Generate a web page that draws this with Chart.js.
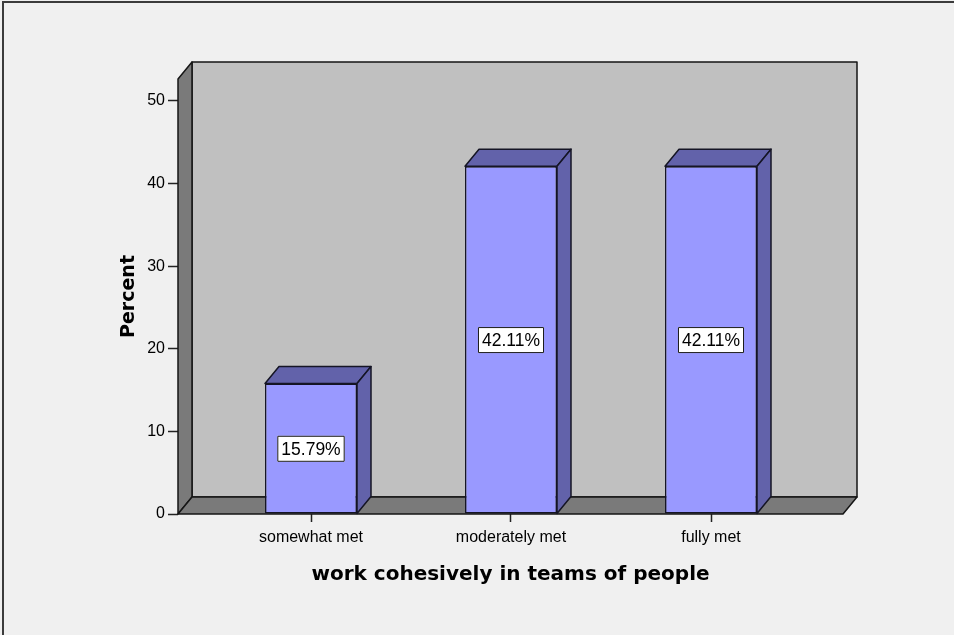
<!DOCTYPE html>
<html>
<head>
<meta charset="utf-8">
<script src="https://cdn.jsdelivr.net/npm/chart.js@4.4.0/dist/chart.umd.min.js"></script>
<style>
    body { margin: 0; background: #f0f0f0; overflow: hidden; }
    .moldura { position: absolute; left: 2px; top: 1px; width: 1000px; height: 1000px; border: 2px solid #3c3c3c; }
    .tamanho { position: absolute; left: 0; top: 0; width: 954px; height: 635px; }
</style>
</head>
<body>
<div class="moldura"></div>
<div class="tamanho"><canvas id="dashboard"></canvas></div>
<script>
const categorias = ['somewhat met', 'moderately met', 'fully met'];
const percentuais = [15.79, 42.11, 42.11];
const ticksY = [0, 10, 20, 30, 40, 50];

// deslocamento da profundidade do efeito 3D
const dx = 14;
const dy = 17;

function poligono(ctx, pontos, cor) {
    ctx.beginPath();
    ctx.moveTo(pontos[0][0], pontos[0][1]);
    for (let i = 1; i < pontos.length; i++) {
        ctx.lineTo(pontos[i][0], pontos[i][1]);
    }
    ctx.closePath();
    ctx.fillStyle = cor;
    ctx.fill();
    ctx.stroke();
}

const caixa3d = {
    id: 'caixa3d',
    beforeDatasetsDraw(chart) {
        const ctx = chart.ctx;
        const a = chart.chartArea;
        ctx.save();
        ctx.lineWidth = 1.5;
        ctx.strokeStyle = '#151515';
        ctx.lineJoin = 'round';
        // parede do fundo
        poligono(ctx, [[a.left + dx, a.top - dy], [a.right + dx, a.top - dy], [a.right + dx, a.bottom - dy], [a.left + dx, a.bottom - dy]], '#c0c0c0');
        // parede lateral (eixo y)
        poligono(ctx, [[a.left, a.top], [a.left + dx, a.top - dy], [a.left + dx, a.bottom - dy], [a.left, a.bottom]], '#7a7a7a');
        // chao
        poligono(ctx, [[a.left, a.bottom], [a.left + dx, a.bottom - dy], [a.right + dx, a.bottom - dy], [a.right, a.bottom]], '#7a7a7a');
        ctx.restore();
    },
    afterDatasetsDraw(chart) {
        const ctx = chart.ctx;
        const meta = chart.getDatasetMeta(0);
        const escalaY = chart.scales.y;
        ctx.save();
        ctx.lineWidth = 1.5;
        ctx.strokeStyle = '#151525';
        ctx.lineJoin = 'round';
        meta.data.forEach(function (barra, i) {
            let esq = barra.x - barra.width / 2;
            let dir = barra.x + barra.width / 2;
            // topo e lateral da barra
            poligono(ctx, [[esq, barra.y], [esq + dx, barra.y - dy], [dir + dx, barra.y - dy], [dir, barra.y]], '#6262aa');
            poligono(ctx, [[dir, barra.y], [dir + dx, barra.y - dy], [dir + dx, barra.base - dy], [dir, barra.base]], '#6262aa');
        });

        // rotulos com o valor no meio da barra
        ctx.font = '17.5px "Liberation Sans", Arial, sans-serif';
        ctx.textAlign = 'center';
        ctx.textBaseline = 'middle';
        ctx.lineWidth = 1;
        meta.data.forEach(function (barra, i) {
            let texto = `${percentuais[i].toFixed(2)}%`;
            let largura = ctx.measureText(texto).width + 8;
            let altura = 26;
            let cy = escalaY.getPixelForValue(percentuais[i] / 2);
            ctx.fillStyle = '#ffffff';
            ctx.fillRect(barra.x - largura / 2, cy - altura / 2, largura, altura);
            ctx.strokeStyle = '#1a1a1a';
            ctx.strokeRect(barra.x - largura / 2 + 0.5, cy - altura / 2 + 0.5, largura - 1, altura - 1);
            ctx.fillStyle = '#000000';
            ctx.fillText(texto, barra.x, cy + 1);
        });
        ctx.restore();
    }
};

let dados = [];
for (let i = 0; i < categorias.length; i++) {
    dados.push({ x: i, y: percentuais[i] });
}

Chart.defaults.font.family = '"Liberation Sans", Arial, sans-serif';
Chart.defaults.color = '#000000';

const familiaTitulo = '"DejaVu Sans", Verdana, sans-serif';

const config = {
    type: 'bar',
    data: {
        datasets: [{
            label: 'Percent',
            data: dados,
            backgroundColor: '#9999ff',
            borderColor: '#151525',
            borderWidth: 1.5,
            borderSkipped: false,
            categoryPercentage: 0.46,
            barPercentage: 1
        }]
    },
    options: {
        responsive: true,
        maintainAspectRatio: false,
        animation: false,
        layout: {
            padding: { left: 110, top: 79, right: 111, bottom: 0 }
        },
        plugins: {
            legend: { display: false },
            tooltip: { enabled: false }
        },
        scales: {
            x: {
                type: 'linear',
                min: -0.665,
                max: 2.66,
                offset: false,
                afterBuildTicks: function (escala) {
                    escala.ticks = categorias.map(function (c, i) { return { value: i }; });
                },
                afterFit: function (escala) {
                    escala.height = 121;
                },
                ticks: {
                    autoSkip: false,
                    maxRotation: 0,
                    padding: 6,
                    font: { size: 16 },
                    callback: function (valor) { return categorias[valor]; }
                },
                grid: {
                    offset: false,
                    drawOnChartArea: false,
                    tickLength: 8,
                    tickColor: '#222222',
                    tickWidth: 1.5
                },
                border: { display: false },
                title: {
                    display: true,
                    text: 'work cohesively in teams of people',
                    font: { family: familiaTitulo, size: 20, weight: 'bold' },
                    padding: { top: 0, bottom: 48 }
                }
            },
            y: {
                min: 0,
                max: 52.66,
                afterBuildTicks: function (escala) {
                    escala.ticks = ticksY.map(function (v) { return { value: v }; });
                },
                afterFit: function (escala) {
                    escala.width = 68;
                },
                ticks: {
                    padding: 3,
                    font: { size: 16 }
                },
                grid: {
                    drawOnChartArea: false,
                    tickLength: 10,
                    tickColor: '#222222',
                    tickWidth: 1.5
                },
                border: { display: false },
                title: {
                    display: true,
                    text: 'Percent',
                    font: { family: familiaTitulo, size: 19, weight: 'bold' },
                    padding: { top: 8, bottom: 0 }
                }
            }
        }
    },
    plugins: [caixa3d]
};

let grafico = new Chart(
    document.getElementById('dashboard'),
    config
);
</script>
</body>
</html>
